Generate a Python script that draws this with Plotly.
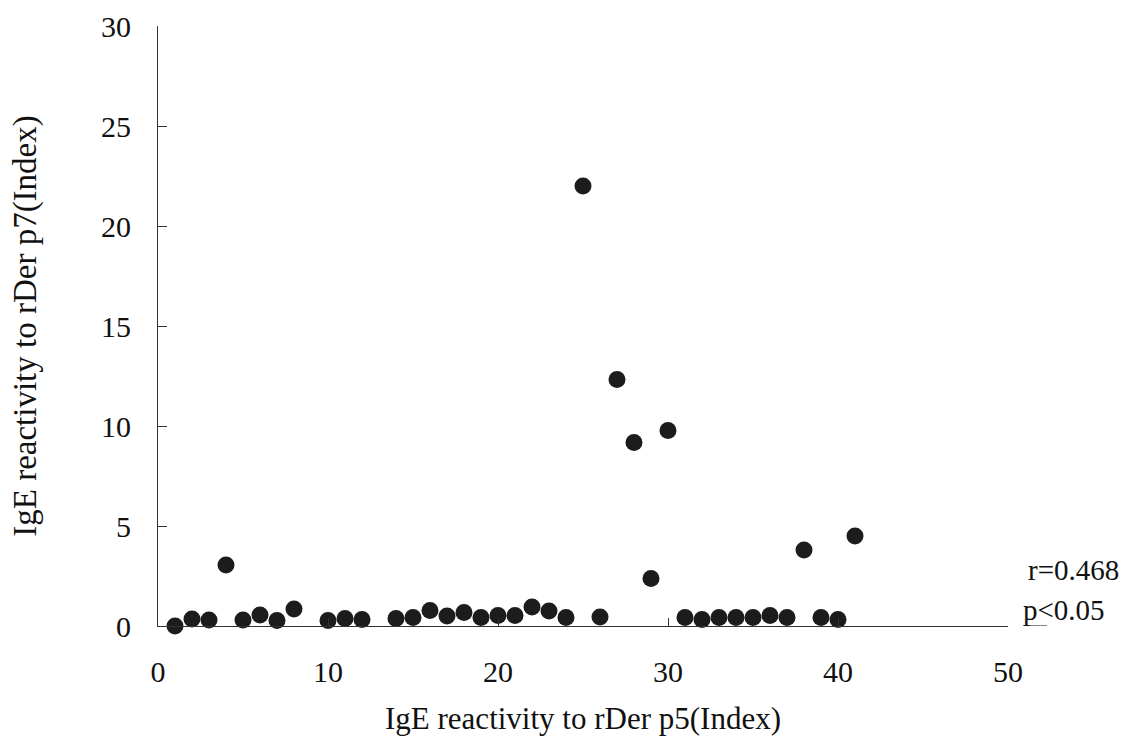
import plotly.graph_objects as go

# Patient index (x) vs IgE reactivity values
rder_p5 = [1, 2, 3, 4, 5, 6, 7, 8, 10, 11, 12, 14, 15, 16, 17, 18, 19, 20, 21, 22, 23, 24,
           25, 26, 27, 28, 29, 30, 31, 32, 33, 34, 35, 36, 37, 38, 39, 40, 41]
rder_p7 = [0.0, 0.35, 0.3, 3.05, 0.3, 0.55, 0.28, 0.85, 0.28, 0.38, 0.33, 0.38, 0.43, 0.77,
           0.5, 0.68, 0.43, 0.52, 0.52, 0.95, 0.75, 0.43, 22.0, 0.45, 12.33, 9.18, 2.38, 9.77,
           0.43, 0.33, 0.43, 0.43, 0.43, 0.52, 0.43, 3.8, 0.43, 0.33, 4.5]

x_ticks = [0, 10, 20, 30, 40, 50]
y_ticks = [0, 5, 10, 15, 20, 25, 30]
stat_lines = ["r=0.468", "p<0.05"]

FONT = "Liberation Serif, Times New Roman, serif"

fig = go.Figure()
fig.add_trace(go.Scatter(
    x=rder_p5, y=rder_p7, mode="markers",
    marker=dict(size=17, color="#1c1c1c", line=dict(width=0)),
    cliponaxis=False, showlegend=False,
))

fig.update_layout(
    width=1144, height=753,
    margin=dict(l=158, r=136, t=26, b=127),
    paper_bgcolor="white", plot_bgcolor="white",
    font=dict(family=FONT, size=30, color="#111"),
    xaxis=dict(
        range=[0, 50], tickvals=x_ticks, showgrid=False, zeroline=False,
        showline=True, linecolor="#333", linewidth=1.2,
        ticks="inside", ticklen=8, tickcolor="#333",
        ticklabelstandoff=19,
        title=dict(text="IgE reactivity to rDer p5(Index)", standoff=20,
                   font=dict(family=FONT, size=31)),
        automargin=False,
    ),
    yaxis=dict(
        range=[0, 30], tickvals=y_ticks, showgrid=False, zeroline=False,
        showline=True, linecolor="#333", linewidth=1.2,
        ticks="inside", ticklen=9, tickcolor="#333",
        ticklabelstandoff=20,
        title=dict(text="IgE reactivity to rDer p7(Index)", standoff=54,
                   font=dict(family=FONT, size=33)),
        automargin=False,
    ),
)

fig.add_annotation(text=stat_lines[0], xref="paper", yref="y", x=1.021, y=2.8,
                   xanchor="left", yanchor="middle", showarrow=False,
                   font=dict(family=FONT, size=29))
fig.add_annotation(text=stat_lines[1], xref="paper", yref="y", x=1.015, y=0.8,
                   xanchor="left", yanchor="middle", showarrow=False,
                   font=dict(family=FONT, size=29))
fig.add_shape(type="line", xref="paper", yref="y", x0=1.018, x1=1.046, y0=0, y1=0,
              line=dict(color="#333", width=1.2))

fig.write_html("out.html")
